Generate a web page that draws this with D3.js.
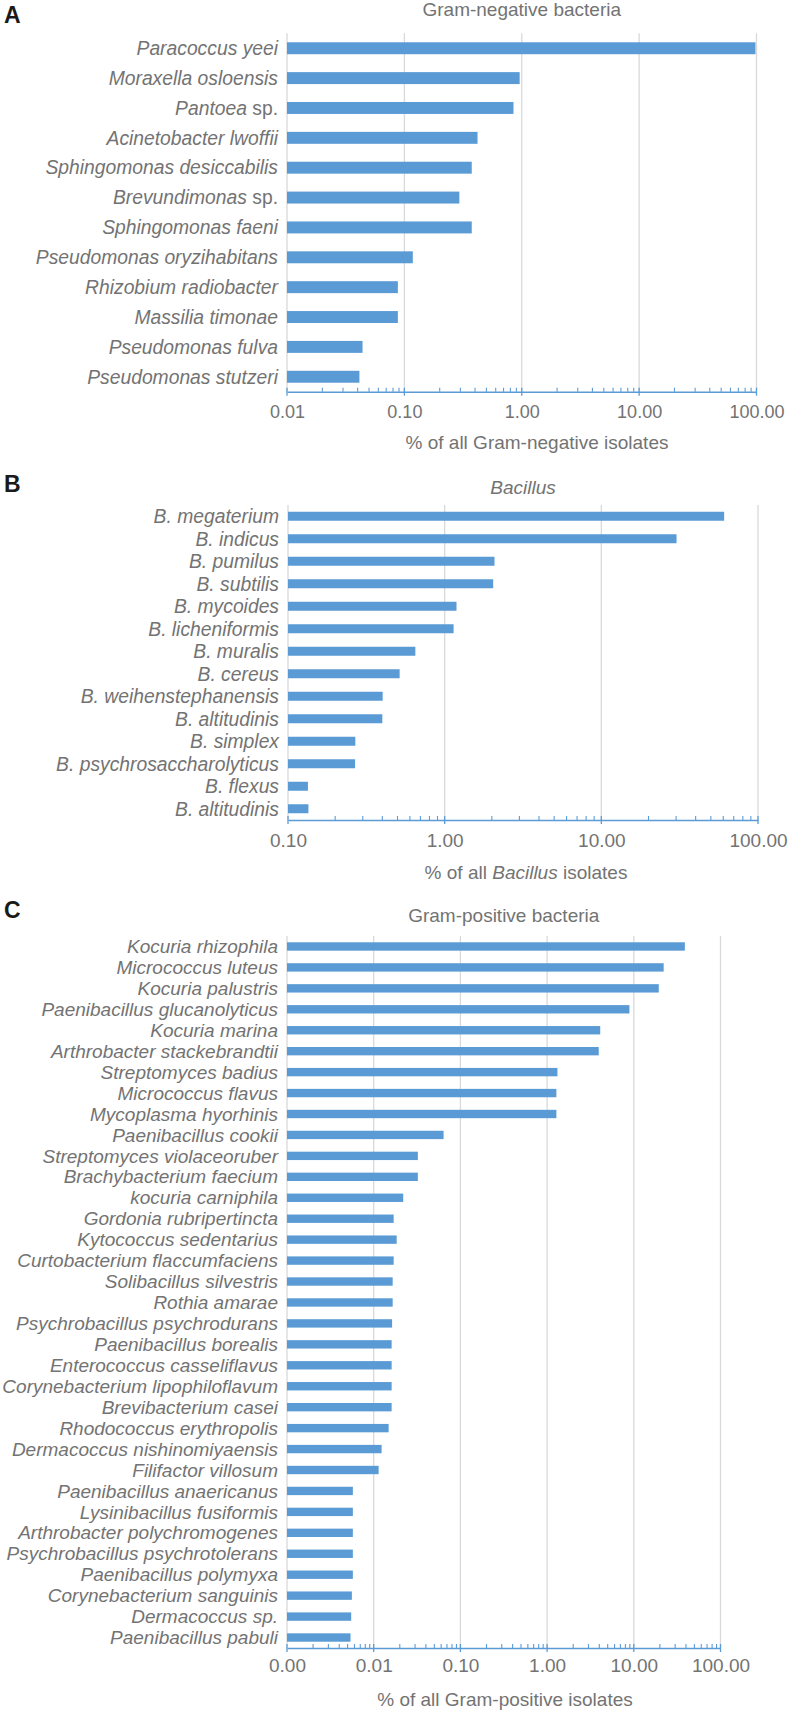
<!DOCTYPE html>
<html><head><meta charset="utf-8">
<script src="https://cdn.jsdelivr.net/npm/d3@7"></script>
<style>
body{margin:0;background:#fff}
svg{display:block}
text{font-family:"Liberation Sans",Arial,Helvetica,sans-serif}
</style>
</head><body>
<svg id="chart" width="789" height="1711"></svg>
<script>
// ---------- Panel A: Gram-negative ----------
const gnCategories = ["Paracoccus yeei","Moraxella osloensis","Pantoea sp.","Acinetobacter lwoffii","Sphingomonas desiccabilis","Brevundimonas sp.","Sphingomonas faeni","Pseudomonas oryzihabitans","Rhizobium radiobacter","Massilia timonae","Pseudomonas fulva","Pseudomonas stutzeri"];
const gnValues = [98, 0.96, 0.85, 0.42, 0.375, 0.294, 0.375, 0.118, 0.088, 0.088, 0.044, 0.0414];
const gnTickValues = [0.01, 0.1, 1, 10, 100];
const gnTickLabels = ["0.01","0.10","1.00","10.00","100.00"];

// ---------- Panel B: Bacillus ----------
const bacCategories = ["B. megaterium","B. indicus","B. pumilus","B. subtilis","B. mycoides","B. licheniformis","B. muralis","B. cereus","B. weihenstephanensis","B. altitudinis","B. simplex","B. psychrosaccharolyticus","B. flexus","B. altitudinis "];
const bacValues = [60.8, 30.2, 2.08, 2.04, 1.19, 1.14, 0.65, 0.516, 0.402, 0.40, 0.269, 0.268, 0.134, 0.135];
const bacTickValues = [0.1, 1, 10, 100];
const bacTickLabels = ["0.10","1.00","10.00","100.00"];

// ---------- Panel C: Gram-positive ----------
const gpCategories = ["Kocuria rhizophila","Micrococcus luteus","Kocuria palustris","Paenibacillus glucanolyticus","Kocuria marina","Arthrobacter stackebrandtii","Streptomyces badius","Micrococcus flavus","Mycoplasma hyorhinis","Paenibacillus cookii","Streptomyces violaceoruber","Brachybacterium faecium","kocuria carniphila","Gordonia rubripertincta","Kytococcus sedentarius","Curtobacterium flaccumfaciens","Solibacillus silvestris","Rothia amarae","Psychrobacillus psychrodurans","Paenibacillus borealis","Enterococcus casseliflavus","Corynebacterium lipophiloflavum","Brevibacterium casei","Rhodococcus erythropolis","Dermacoccus nishinomiyaensis","Filifactor villosum","Paenibacillus anaericanus","Lysinibacillus fusiformis","Arthrobacter polychromogenes","Psychrobacillus psychrotolerans","Paenibacillus polymyxa","Corynebacterium sanguinis","Dermacoccus sp.","Paenibacillus pabuli"];
const gpValues = [38.8, 22.1, 19.4, 8.9, 4.10, 3.94, 1.316, 1.28, 1.28, 0.064, 0.0323, 0.0323, 0.0219, 0.0170, 0.0184, 0.0170, 0.01655, 0.01655, 0.0163, 0.0161, 0.0161, 0.0161, 0.0161, 0.01486, 0.01233, 0.0114, 0.00575, 0.00575, 0.00575, 0.00575, 0.00575, 0.0056, 0.0055, 0.0054];
const gpTickValues = [0.001, 0.01, 0.1, 1, 10, 100];
const gpTickLabels = ["0.00","0.01","0.10","1.00","10.00","100.00"];

const BAR = "#5b9bd5", GRID = "#d9d9d9", TXT = "#737373";
const svg = d3.select("#chart");

function drawPanel(cfg) {
  const g = svg.append("g");
  const x = d3.scaleLog().domain(cfg.domain).range(cfg.xRange);
  const y = d3.scaleBand().domain(d3.range(cfg.categories.length)).range(cfg.yRange).paddingInner(0.6).paddingOuter(0.3);
  const [top, bottom] = cfg.yRange;

  // panel letter
  g.append("text").attr("x", 4).attr("y", cfg.letterY).attr("font-size", 23).attr("font-weight", "bold")
    .attr("fill", "#1a1a1a").text(cfg.letter);

  // title
  const t = g.append("text").attr("x", (cfg.xRange[0] + cfg.xRange[1]) / 2).attr("y", cfg.titleY)
    .attr("dy", "0.35em").attr("text-anchor", "middle").attr("font-size", 19).attr("fill", TXT)
    .text(cfg.title);
  if (cfg.titleItalic) t.attr("font-style", "italic");

  // gridlines
  g.selectAll(".grid").data(cfg.tickValues).join("line")
    .attr("x1", d => x(d)).attr("x2", d => x(d)).attr("y1", top).attr("y2", bottom)
    .attr("stroke", GRID).attr("stroke-width", 1.3);

  // bars
  g.selectAll(".bar").data(cfg.values).join("rect")
    .attr("x", x(cfg.domain[0])).attr("y", (d, i) => y(i))
    .attr("width", d => x(d) - x(cfg.domain[0])).attr("height", y.bandwidth())
    .attr("fill", BAR);

  // category labels
  g.selectAll(".lab").data(cfg.categories).join("text")
    .attr("x", cfg.xRange[0] - 9).attr("y", (d, i) => y(i) + y.bandwidth() / 2)
    .attr("dy", "0.35em").attr("text-anchor", "end").attr("font-size", cfg.labelSize).attr("fill", TXT)
    .each(function (d) {
      const el = d3.select(this);
      const m = d.match(/^(.*) sp\.$/);
      if (m && cfg.spRoman) {
        el.append("tspan").attr("font-style", "italic").text(m[1]);
        el.append("tspan").text(" sp.");
      } else {
        el.append("tspan").attr("font-style", "italic").text(d.trim());
      }
    });

  // axis
  const axis = d3.axisBottom(x).tickValues(cfg.tickValues)
    .tickFormat((d, i) => cfg.tickLabels[i]).tickSize(0).tickSizeOuter(0).tickPadding(cfg.tickPad);
  const ax = g.append("g").attr("transform", `translate(0,${bottom})`).call(axis);
  ax.select(".domain").attr("stroke", BAR).attr("stroke-width", 1.5);
  ax.selectAll(".tick text").attr("font-size", cfg.tickFont).attr("fill", TXT)
    .attr("font-family", '"Liberation Sans",Arial,sans-serif');
  // major ticks (crossing)
  ax.selectAll(".major").data(cfg.tickValues).join("line")
    .attr("x1", d => x(d)).attr("x2", d => x(d)).attr("y1", -4).attr("y2", 4)
    .attr("stroke", BAR).attr("stroke-width", 1.3);
  // minor ticks (inside)
  const minor = x.ticks().filter(d => !cfg.tickValues.some(v => Math.abs(Math.log10(v) - Math.log10(d)) < 1e-9));
  ax.selectAll(".minor").data(minor).join("line")
    .attr("x1", d => x(d)).attr("x2", d => x(d)).attr("y1", -4).attr("y2", 0)
    .attr("stroke", BAR).attr("stroke-width", 1.1);

  // axis title
  const at = g.append("text").attr("x", cfg.axisTitleX).attr("y", cfg.axisTitleY).attr("dy", "0.35em")
    .attr("text-anchor", "middle").attr("font-size", 19).attr("fill", TXT);
  cfg.axisTitle.forEach(p => {
    const ts = at.append("tspan").text(p.t);
    if (p.i) ts.attr("font-style", "italic");
  });
}

drawPanel({
  letter: "A", letterY: 23, title: "Gram-negative bacteria", titleItalic: false, titleY: 9,
  categories: gnCategories, values: gnValues, domain: [0.01, 100], xRange: [287, 756.5], yRange: [33.3, 391.7],
  tickValues: gnTickValues, tickLabels: gnTickLabels, tickFont: 18, tickPad: 14, labelSize: 19.3, spRoman: true,
  axisTitle: [{t: "% of all Gram-negative isolates"}], axisTitleX: 537, axisTitleY: 442
});
drawPanel({
  letter: "B", letterY: 492, title: "Bacillus", titleItalic: true, titleY: 487,
  categories: bacCategories, values: bacValues, domain: [0.1, 100], xRange: [288, 758], yRange: [505, 820],
  tickValues: bacTickValues, tickLabels: bacTickLabels, tickFont: 19, tickPad: 14, labelSize: 19.3, spRoman: true,
  axisTitle: [{t: "% of all "}, {t: "Bacillus", i: true}, {t: " isolates"}], axisTitleX: 526, axisTitleY: 872
});
drawPanel({
  letter: "C", letterY: 918, title: "Gram-positive bacteria", titleItalic: false, titleY: 915,
  categories: gpCategories, values: gpValues, domain: [0.001, 100], xRange: [287, 720.5], yRange: [936, 1648],
  tickValues: gpTickValues, tickLabels: gpTickLabels, tickFont: 19, tickPad: 11, labelSize: 19, spRoman: false,
  axisTitle: [{t: "% of all Gram-positive isolates"}], axisTitleX: 505, axisTitleY: 1699
});
</script>
</body></html>
